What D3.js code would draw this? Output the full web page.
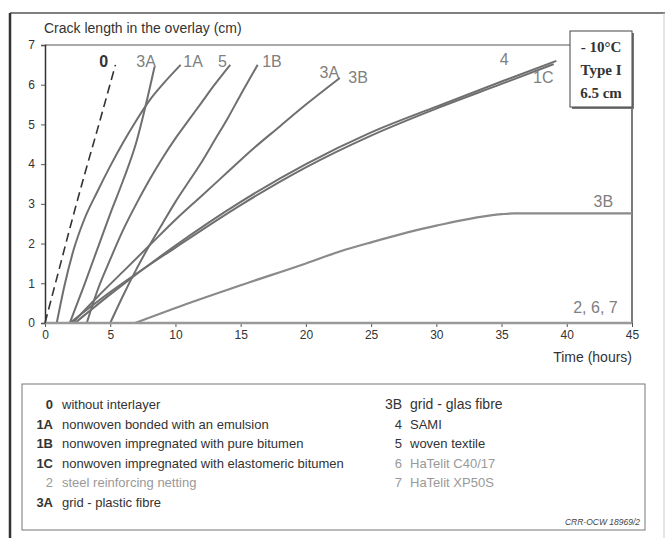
<!DOCTYPE html>
<html>
<head>
<meta charset="utf-8">
<script src="https://cdn.jsdelivr.net/npm/d3@7"></script>
<style>
  body { margin: 0; background: #fff; }
  text { font-family: "Liberation Sans", Arial, sans-serif; }
</style>
</head>
<body>
<svg width="665" height="538"></svg>
<script>
// curves: [hours, crack length cm]
let curve0 = [[0, 0], [1, 1.25], [2, 2.5], [3, 3.7], [4, 4.85], [5.4, 6.5]];
let curve1A = [[0.9, 0], [1.5, 0.95], [2.2, 1.85], [3, 2.6], [4, 3.3], [5, 3.95], [6, 4.55], [7, 5.1], [8, 5.6], [9, 6.0], [10.4, 6.5]];
let curve3A1 = [[1.9, 0], [3, 0.95], [4, 1.85], [5, 2.75], [6, 3.6], [7, 4.55], [7.7, 5.45], [8.4, 6.45]];
let curve5 = [[3.2, 0], [4, 0.8], [5, 1.6], [6, 2.35], [7, 3.0], [8, 3.6], [9, 4.15], [10, 4.65], [11, 5.1], [12, 5.55], [13, 6.0], [14.2, 6.5]];
let curve1B = [[5, 0], [6, 0.7], [7, 1.35], [8, 1.95], [9, 2.5], [10, 3.05], [11, 3.55], [12, 4.05], [13, 4.6], [14, 5.15], [15, 5.75], [16.3, 6.5]];
let curve3A2 = [[2.1, 0], [4, 0.65], [6, 1.3], [8, 1.95], [10, 2.6], [12, 3.2], [14, 3.8], [16, 4.4], [18, 4.95], [20, 5.5], [22.6, 6.17]];
let curve4 = [[2.3, 0], [5, 0.72], [10, 1.95], [15, 3.05], [20, 4.0], [25, 4.8], [30, 5.45], [35, 6.08], [39.2, 6.6]];
let curve1C = [[1.9, 0], [5, 0.78], [10, 1.9], [15, 2.97], [20, 3.92], [25, 4.72], [30, 5.4], [35, 6.02], [39, 6.52]];
let curve3B = [[6.9, 0], [10, 0.38], [15, 0.95], [20, 1.5], [22.6, 1.8], [25, 2.03], [30, 2.45], [35, 2.74], [36, 2.76], [45, 2.76]];
let curve267 = [[0, 0], [45, 0]];

let xTicks = [0, 5, 10, 15, 20, 25, 30, 35, 40, 45];
let yTicks = [0, 1, 2, 3, 4, 5, 6, 7];

// curve labels: text, hours, cm
let curveLabels = [
  ["0", 4.5, 6.45], ["3A", 7.75, 6.45], ["1A", 11.35, 6.45], ["5", 13.6, 6.45],
  ["1B", 17.4, 6.45], ["3A", 21.8, 6.17], ["3B", 24.0, 6.05], ["4", 35.2, 6.5],
  ["1C", 38.2, 6.05], ["3B", 42.8, 2.92], ["2, 6, 7", 42.2, 0.25]
];

let legendLeft = [
  ["0", "without interlayer"],
  ["1A", "nonwoven bonded with an emulsion"],
  ["1B", "nonwoven impregnated with pure bitumen"],
  ["1C", "nonwoven impregnated with elastomeric bitumen"],
  ["2", "steel reinforcing netting"],
  ["3A", "grid - plastic fibre"]
];
let legendRight = [
  ["3B", "grid - glas fibre"],
  ["4", "SAMI"],
  ["5", "woven textile"],
  ["6", "HaTelit C40/17"],
  ["7", "HaTelit XP50S"]
];

let svg = d3.select("svg");

let x = d3.scaleLinear().domain([0, 45]).range([45, 632]);
let y = d3.scaleLinear().domain([0, 7]).range([323, 45]);

// outer frame
svg.append("line").attr("x1", 10).attr("y1", 13).attr("x2", 665).attr("y2", 13)
  .attr("stroke", "#555").attr("stroke-width", 1.5);
svg.append("line").attr("x1", 10).attr("y1", 13).attr("x2", 10).attr("y2", 538)
  .attr("stroke", "#333").attr("stroke-width", 2.5);
svg.append("line").attr("x1", 664).attr("y1", 13).attr("x2", 664).attr("y2", 538)
  .attr("stroke", "#ccc").attr("stroke-width", 1);

// plot frame (top and right)
svg.append("line").attr("x1", x(0)).attr("y1", y(7)).attr("x2", 570).attr("y2", y(7))
  .attr("stroke", "#555").attr("stroke-width", 1);
svg.append("line").attr("x1", x(45)).attr("y1", 107).attr("x2", x(45)).attr("y2", y(0))
  .attr("stroke", "#333").attr("stroke-width", 1.3);

// axes
let yAxis = svg.append("g")
  .attr("transform", "translate(" + x(0) + ",0)")
  .call(d3.axisLeft(y).tickValues(yTicks).tickFormat(d3.format("d")).tickSize(4).tickPadding(6));
let xAxis = svg.append("g")
  .attr("transform", "translate(0," + y(0) + ")")
  .call(d3.axisBottom(x).tickValues(xTicks).tickFormat(d3.format("d")).tickSize(4).tickPadding(3));
yAxis.select(".domain").attr("stroke", "#333").attr("stroke-width", 1.5);
xAxis.select(".domain").attr("stroke", "#555");
svg.selectAll(".tick line").attr("stroke", "#555");
svg.selectAll(".tick text").attr("fill", "#333").style("font-size", "12px");

let line = d3.line()
  .x(function (d) { return x(d[0]); })
  .y(function (d) { return y(d[1]); })
  .curve(d3.curveMonotoneX);

let grey = [curve1A, curve3A1, curve5, curve1B, curve3A2, curve4, curve1C];
svg.selectAll(".curve")
  .data(grey)
  .enter()
  .append("path")
  .attr("class", "curve")
  .attr("d", line)
  .attr("fill", "none")
  .attr("stroke", "#6f6f6f")
  .attr("stroke-width", 2);

svg.append("path").attr("d", line(curve3B))
  .attr("fill", "none").attr("stroke", "#8a8a8a").attr("stroke-width", 2.2);
svg.append("path").attr("d", line(curve267))
  .attr("fill", "none").attr("stroke", "#999").attr("stroke-width", 2.5);
svg.append("path").attr("d", line(curve0))
  .attr("fill", "none").attr("stroke", "#333").attr("stroke-width", 1.6)
  .attr("stroke-dasharray", "9,5");

// curve labels
svg.selectAll(".clabel")
  .data(curveLabels)
  .enter()
  .append("text")
  .attr("class", "clabel")
  .attr("x", function (d) { return x(d[1]); })
  .attr("y", function (d) { return y(d[2]); })
  .attr("text-anchor", "middle")
  .style("font-size", "16px")
  .attr("fill", function (d) { return d[0] == "0" ? "#333" : "#808080"; })
  .style("font-weight", function (d) { return d[0] == "0" ? "bold" : "normal"; })
  .text(function (d) { return d[0]; });

// titles
svg.append("text").attr("x", 44).attr("y", 33)
  .style("font-size", "14px").attr("fill", "#333")
  .text("Crack length in the overlay (cm)");
svg.append("text").attr("x", 632).attr("y", 362).attr("text-anchor", "end")
  .style("font-size", "14px").attr("fill", "#333")
  .text("Time (hours)");

// condition box
svg.append("rect").attr("x", 572).attr("y", 33).attr("width", 62).attr("height", 76)
  .attr("fill", "#777");
svg.append("rect").attr("x", 570).attr("y", 31).attr("width", 62).attr("height", 76)
  .attr("fill", "#fff").attr("stroke", "#444").attr("stroke-width", 1);
let boxText = ["- 10°C", "Type I", "6.5 cm"];
svg.selectAll(".btext")
  .data(boxText)
  .enter()
  .append("text")
  .attr("x", 601)
  .attr("y", function (d, i) { return 52 + i * 23; })
  .attr("text-anchor", "middle")
  .style("font-family", "'Liberation Serif', 'Times New Roman', serif")
  .style("font-size", "15px")
  .style("font-weight", "bold")
  .attr("fill", "#333")
  .text(function (d) { return d; });

// legend
svg.append("rect").attr("x", 22).attr("y", 384).attr("width", 623).attr("height", 146)
  .attr("fill", "none").attr("stroke", "#777").attr("stroke-width", 1);

function legendColumn(rows, codeX, textX, dimCodes, boldCodes, bigFirst) {
  let g = svg.append("g");
  rows.forEach(function (r, i) {
    let dim = dimCodes.indexOf(r[0]) >= 0;
    let bold = boldCodes.indexOf(r[0]) >= 0;
    let fs = (bigFirst && i == 0) ? 14 : 13;
    g.append("text").attr("x", codeX).attr("y", 409 + i * 19.6)
      .attr("text-anchor", "end")
      .style("font-size", fs + "px")
      .style("font-weight", bold ? "bold" : "normal")
      .attr("fill", dim ? "#999" : "#333")
      .text(r[0]);
    g.append("text").attr("x", textX).attr("y", 409 + i * 19.6)
      .style("font-size", fs + "px")
      .attr("fill", dim ? "#999" : "#333")
      .text(r[1]);
  });
}
legendColumn(legendLeft, 53, 62, ["2"], ["0", "1A", "1B", "1C", "3A"], false);
legendColumn(legendRight, 402, 410, ["6", "7"], [], true);

svg.append("text").attr("x", 640).attr("y", 525).attr("text-anchor", "end")
  .style("font-size", "8.5px").style("font-style", "italic").attr("fill", "#444")
  .text("CRR-OCW 18969/2");
</script>
</body>
</html>
